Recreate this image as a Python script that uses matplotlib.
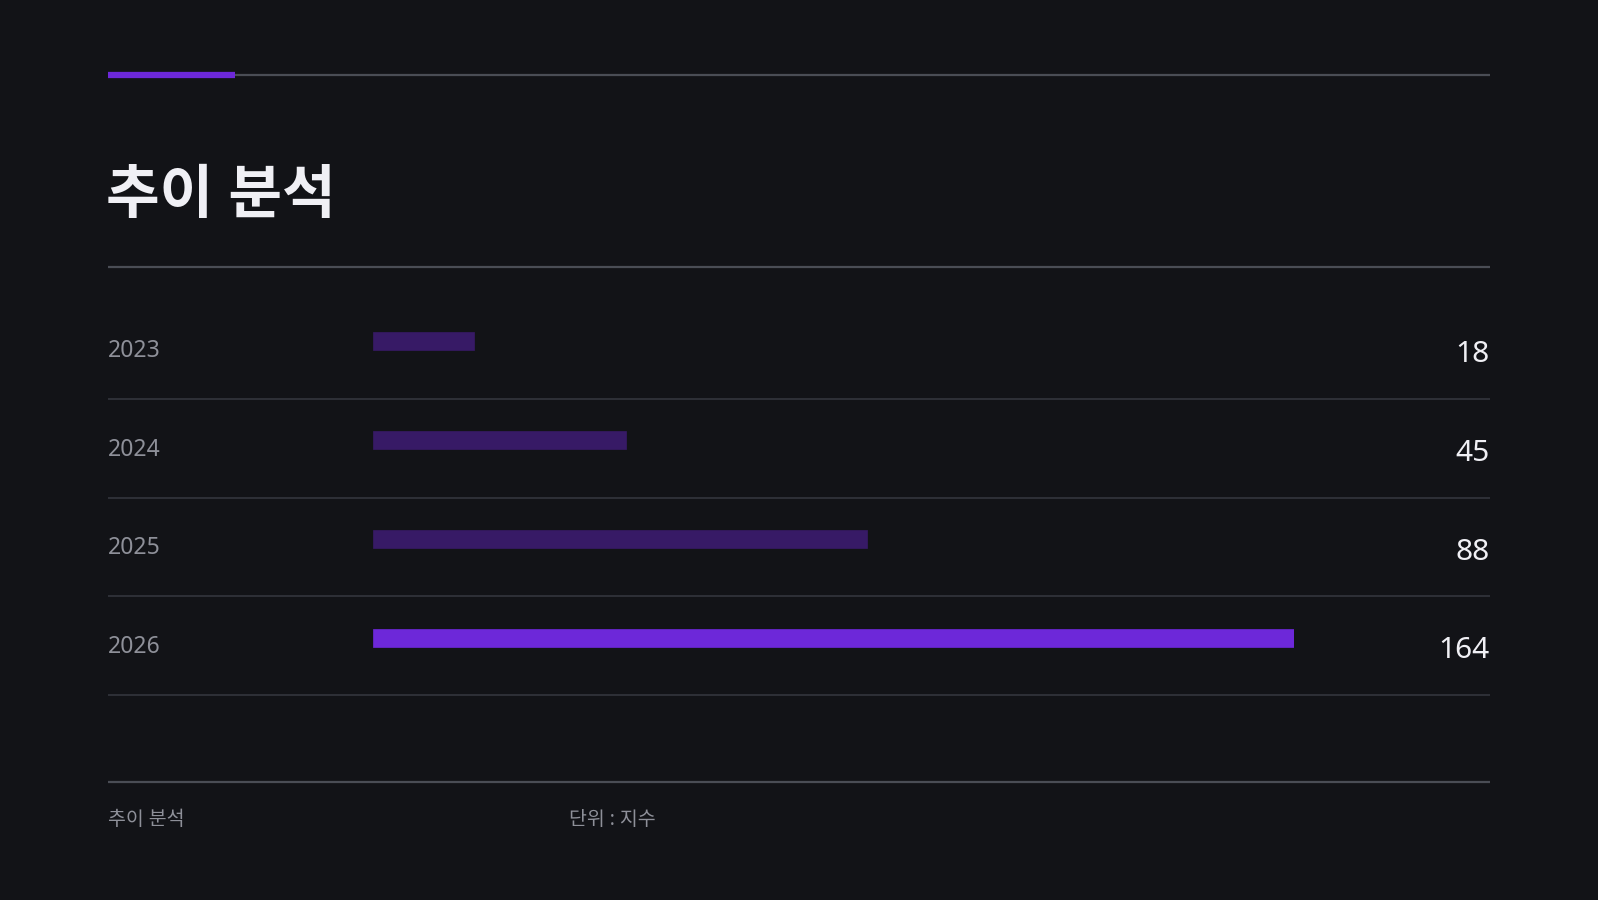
import matplotlib
matplotlib.use("Agg")
import matplotlib.pyplot as plt

plt.rcParams['font.family'] = ['Noto Sans', 'Noto Sans CJK KR', 'DejaVu Sans']

# data
years = ["2023", "2024", "2025", "2026"]
values = [18, 45, 88, 164]
title = "추이 분석"
footer_left = "추이 분석"
footer_unit = "단위 : 지수"

# colours
bg_color = "#121317"
accent = "#6D28D9"
dim_bar = "#371A66"
line_main = "#4A4D55"
line_row = "#30333A"
label_color = "#8E9099"
value_color = "#F0F0F5"

W, H = 1598, 900
fig = plt.figure(figsize=(W / 100, H / 100), dpi=100, facecolor=bg_color)

# background axes in pixel coordinates for decoration
bg = fig.add_axes([0, 0, 1, 1])
bg.set_xlim(0, W)
bg.set_ylim(H, 0)
bg.axis("off")
bg.set_facecolor(bg_color)

x0, x1 = 108, 1490

# top rule with accent
bg.plot([x0, x1], [75, 75], color=line_main, lw=1.6, solid_capstyle="butt")
bg.plot([x0, 235], [75, 75], color=accent, lw=4.5, solid_capstyle="butt")

# title
bg.text(x0 - 2, 213, title, color=value_color, fontsize=42, fontweight="bold",
        ha="left", va="baseline")
bg.plot([x0, x1], [267, 267], color=line_main, lw=1.6, solid_capstyle="butt")

# rows
row_top, row_h = 300, 98.75
bar_left, bar_right = 373, 1294
bar_ax = fig.add_axes([bar_left / W, 1 - (row_top - 8 + row_h * len(years)) / H,
                       (bar_right - bar_left) / W, row_h * len(years) / H])
bar_ax.set_xlim(0, max(values))
bar_ax.set_ylim(len(years) - 0.5, -0.5)
bar_ax.axis("off")
colors = [accent if v == max(values) else dim_bar for v in values]
bar_ax.barh(range(len(years)), values, height=0.18, color=colors,
            edgecolor=colors, linewidth=0.5)

for i, (yr, v) in enumerate(zip(years, values)):
    top = row_top + i * row_h
    bg.text(x0, top + 57, yr, color=label_color, fontsize=16.5,
            ha="left", va="baseline")
    bg.text(x1, top + 62, str(v), color=value_color, fontsize=21.5,
            fontweight="medium", ha="right", va="baseline")
    bg.plot([x0, x1], [top + row_h, top + row_h], color=line_row, lw=1.3,
            solid_capstyle="butt")

# footer
bg.plot([x0, x1], [782, 782], color=line_main, lw=1.6, solid_capstyle="butt")
bg.text(x0, 825, footer_left, color=label_color, fontsize=14,
        ha="left", va="baseline")
bg.text(569, 825, footer_unit, color=label_color, fontsize=14,
        ha="left", va="baseline")

fig.savefig("out.png", dpi=100, facecolor=bg_color)
